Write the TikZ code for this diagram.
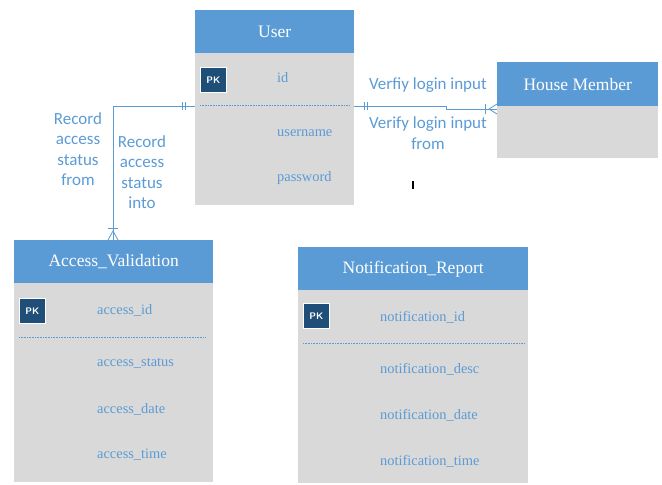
\documentclass[tikz,border=0pt]{standalone}
\usepackage{fontspec}
\setmainfont{Liberation Serif}
\newfontfamily\labelfont{Carlito}
\definecolor{headblue}{HTML}{5B9BD5}
\definecolor{bodygray}{HTML}{D9D9D9}
\definecolor{pkblue}{HTML}{1F4E79}
\definecolor{fieldblue}{HTML}{5B9BD5}
\begin{document}
\begin{tikzpicture}[x=1pt,y=-1pt,
  head/.style={fill=headblue, draw=none, anchor=north west, inner sep=0pt,
    font=\fontsize{17.5}{19}\selectfont, text=white},
  body/.style={fill=bodygray, draw=none, anchor=north west, inner sep=0pt},
  pk/.style={fill=pkblue, draw=white, line width=0.8pt, anchor=north west,
    minimum width=26pt, minimum height=25pt, inner sep=0pt,
    font=\sffamily\bfseries\fontsize{9.5}{10}\selectfont, text=white},
  field/.style={anchor=west, inner sep=0pt, text=fieldblue,
    font=\fontsize{14.4}{16}\selectfont},
  sep/.style={draw=fieldblue, dash pattern=on 1pt off 0.6pt, line width=0.7pt},
  rel/.style={draw=headblue, line width=0.8pt},
  lbl/.style={text=headblue, align=center, inner sep=0pt,
    font=\labelfont\fontsize{17}{20.5}\selectfont}
]
\useasboundingbox (0,0) rectangle (662,485);

% ---------- User ----------
\node[body, minimum width=159pt, minimum height=152pt] (userBody) at (195,53) {};
\node[head, minimum width=159pt, minimum height=43pt] (userHead) at (195,10) {User};
\node[pk] (userPK) at (200,67) {PK};
\node[field] (userId) at (277,78) {id};
\draw[sep] (200,105) -- (350,105);
\node[field] (userName) at (277,133) {username};
\node[field] (userPass) at (277,178) {password};

% ---------- House Member ----------
\node[body, minimum width=161pt, minimum height=52pt] (houseBody) at (497,106) {};
\node[head, minimum width=161pt, minimum height=44pt] (houseHead) at (497,62) {House Member};

% ---------- Access_Validation ----------
\node[body, minimum width=199pt, minimum height=199pt] (accBody) at (14,283) {};
\node[head, minimum width=199pt, minimum height=43pt] (accHead) at (14,240) {Access\_Validation};
\node[pk] (accPK) at (19,298) {PK};
\node[field] (accId) at (97,310) {access\_id};
\draw[sep] (19,337) -- (206,337);
\node[field] (accStatus) at (97,363) {access\_status};
\node[field] (accDate) at (97,409) {access\_date};
\node[field] (accTime) at (97,455) {access\_time};

% ---------- Notification_Report ----------
\node[body, minimum width=230pt, minimum height=193pt] (notBody) at (298,290) {};
\node[head, minimum width=230pt, minimum height=43pt] (notHead) at (298,247) {Notification\_Report};
\node[pk] (notPK) at (303,303) {PK};
\node[field] (notId) at (380,317) {notification\_id};
\draw[sep] (303,343) -- (524,343);
\node[field] (notDesc) at (380,369) {notification\_desc};
\node[field] (notDate) at (380,415) {notification\_date};
\node[field] (notTime) at (380,461) {notification\_time};

% ---------- User -- House Member ----------
\coordinate (hmStep) at (446,106);
\draw[rel] (userBody.east |- hmStep) -- (hmStep) -- (446,109) -- (houseBody.west |- 0,109);
\draw[rel] (364,102) -- (364,110);
\draw[rel] (367,102) -- (367,110);
\draw[rel] (485,104) -- (485,114);
\draw[rel] (houseBody.west |- 0,104) -- (489,109) -- (houseBody.west |- 0,114);
\node[lbl] (lblHm1) at (428,85) {Verfiy login input};
\node[lbl] (lblHm2) at (428,133) {Verify login input\\from};

% ---------- User -- Access_Validation ----------
\coordinate (avCorner) at (113,106);
\draw[rel] (userBody.west |- avCorner) -- (avCorner) -- (accHead.north -| avCorner);
\draw[rel] (182,102) -- (182,110);
\draw[rel] (185,102) -- (185,110);
\draw[rel] (108,228) -- (118,228);
\draw[rel] (108,240) -- (113,231) -- (118,240);
\node[lbl] (lblAv1) at (78,149) {Record\\access\\status\\from};
\node[lbl] (lblAv2) at (142,172) {Record\\access\\status\\into};

% small mark
\fill[black] (412,181) rectangle (414,189);
\end{tikzpicture}
\end{document}
